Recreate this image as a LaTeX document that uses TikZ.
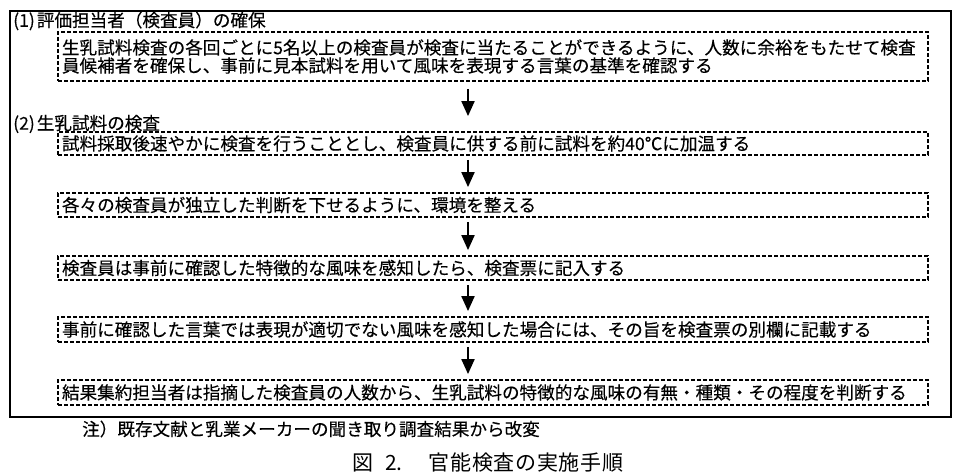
\documentclass[tikz,border=0pt]{standalone}
\usepackage{fontspec}
\setmainfont[FakeBold=0.3]{Noto Sans CJK JP}
\newfontfamily\capfont{Noto Sans CJK JP}
\usetikzlibrary{arrows.meta}
\begin{document}
\begin{tikzpicture}[x=1pt,y=-1pt,
  txt/.style={inner sep=0pt, font=\fontsize{17.6}{18}\selectfont},
  stepbox/.style={draw, line width=1.8pt, dash pattern=on 4pt off 2pt,
    minimum width=870pt, text width=862pt, inner xsep=4pt, inner ysep=0pt,
    align=left, font=\fontsize{17.6}{18}\selectfont},
  frm/.style={draw, line width=2pt, minimum width=941pt, minimum height=406pt, inner sep=0pt},
  arr/.style={line width=2pt, -{Triangle[length=15pt,width=13pt]}, shorten <=4pt, shorten >=5pt}
]
\useasboundingbox (0,0) rectangle (960,473);
\node[frm] (frame) at (480.5,214) {};
\node[txt, anchor=west] (t1) at (13,21) {(1)\kern2pt 評価担当者（検査員）の確保};
\node[stepbox, minimum height=49pt] (b1) at (493,56.5)
  {生乳試料検査の各回ごとに5名以上の検査員が検査に当たることができるように、人数に余裕をもたせて検査\\員候補者を確保し、事前に見本試料を用いて風味を表現する言葉の基準を確認する};
\node[txt, anchor=west] (t2) at (13,124) {(2)\kern2pt 生乳試料の検査};
\node[stepbox, minimum height=23pt] (b2) at (493,143.5)
  {試料採取後速やかに検査を行うこととし、検査員に供する前に試料を約40℃に加温する};
\node[stepbox, minimum height=24pt] (b3) at (493,205)
  {各々の検査員が独立した判断を下せるように、環境を整える};
\node[stepbox, minimum height=24pt] (b4) at (493,268)
  {検査員は事前に確認した特徴的な風味を感知したら、検査票に記入する};
\node[stepbox, minimum height=25pt] (b5) at (493,329.5)
  {事前に確認した言葉では表現が適切でない風味を感知した場合には、その旨を検査票の別欄に記載する};
\node[stepbox, minimum height=25pt] (b6) at (493,392.5)
  {結果集約担当者は指摘した検査員の人数から、生乳試料の特徴的な風味の有無・種類・その程度を判断する};
\draw[arr, shorten <=7pt, shorten >=15pt] ([xshift=-25pt]b1.south) -- ([xshift=-25pt]b2.north);
\draw[arr] ([xshift=-25pt]b2.south) -- ([xshift=-25pt]b3.north);
\draw[arr] ([xshift=-25pt]b3.south) -- ([xshift=-25pt]b4.north);
\draw[arr] ([xshift=-25pt]b4.south) -- ([xshift=-25pt]b5.north);
\draw[arr] ([xshift=-25pt]b5.south) -- ([xshift=-25pt]b6.north);
\node[txt, anchor=west] (note) at (82,429) {注）既存文献と乳業メーカーの聞き取り調査結果から改変};
\node[inner sep=0pt, anchor=west, font=\capfont\fontsize{21}{22}\selectfont] (cap) at (352,463)
  {図\kern12pt 2.\kern26pt 官\kern0.7pt 能\kern0.7pt 検\kern0.7pt 査\kern0.7pt の\kern0.7pt 実\kern0.7pt 施\kern0.7pt 手\kern0.7pt 順};
\end{tikzpicture}
\end{document}
